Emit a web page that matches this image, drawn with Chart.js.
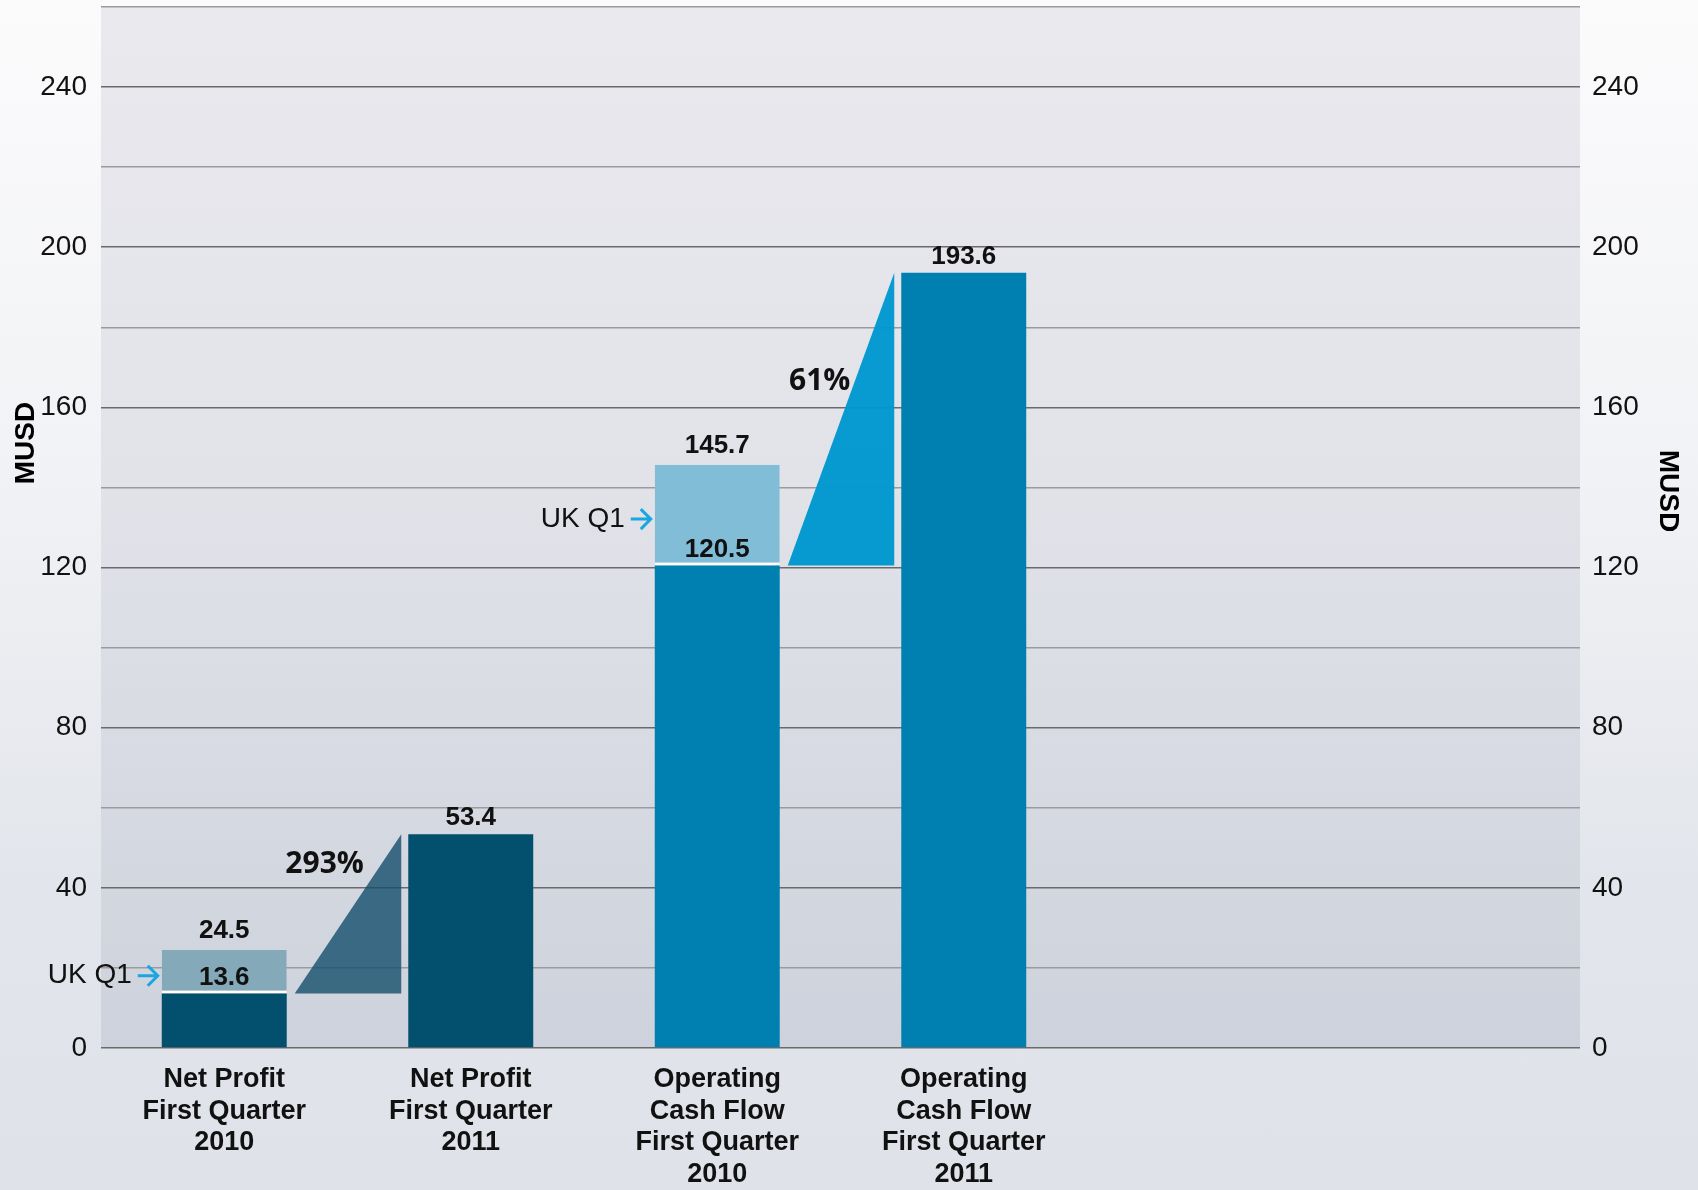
<!DOCTYPE html>
<html>
<head>
<meta charset="utf-8">
<script src="https://cdn.jsdelivr.net/npm/chart.js@4.4.1/dist/chart.umd.min.js"></script>
<style>
  html, body { margin: 0; padding: 0; }
  body {
    width: 1698px; height: 1190px; overflow: hidden;
    background: linear-gradient(180deg, #fbfbfc 0%, #f1f2f5 40%, #e2e5eb 75%, #dfe3e9 100%);
  }
  #wrap { position: relative; width: 1698px; height: 1190px; }
</style>
</head>
<body>
<div id="wrap"><canvas id="myChart" width="1698" height="1190"></canvas></div>
<script>
// categories (two empty slots keep the right side of the plot free)
const categories = [
  ["Net Profit", "First Quarter", "2010"],
  ["Net Profit", "First Quarter", "2011"],
  ["Operating", "Cash Flow", "First Quarter", "2010"],
  ["Operating", "Cash Flow", "First Quarter", "2011"],
  "",
  ""
];
// without UK (dark part) and with UK Q1 (total height)
const baseValues = [13.6, 53.4, 120.5, 193.6, null, null];
const totalValues = [24.5, null, 145.7, null, null, null];
const growthPairs = [[0, 1], [2, 3]];
const growthLabels = ["293%", "61%"];
const yMin = 0;
const yMax = 260;
const yStep = 20;
const yLabelStep = 40;

const ukValues = totalValues.map((t, i) => (t === null ? null : +(t - baseValues[i]).toFixed(1)));

const baseColors = ["#024f6e", "#024f6e", "#0080b0", "#0080b0", null, null];
const ukColors = ["#84aab9", null, "#82bdd7", null, null, null];
const triColors = ["rgba(20,78,108,0.8)", "rgba(0,152,208,0.97)"];
const pctPos = [[0.28, 0.19], [0.30, 0.37]];

const ctx = document.getElementById("myChart");

const plotBg = {
  id: "plotBg",
  beforeDraw(chart) {
    const a = chart.chartArea;
    const c = chart.ctx;
    const g = c.createLinearGradient(0, a.top, 0, a.bottom);
    g.addColorStop(0, "#e9e9ee");
    g.addColorStop(0.45, "#e2e3e9");
    g.addColorStop(1, "#cdd2dc");
    c.save();
    c.fillStyle = g;
    c.fillRect(a.left, a.top, a.right - a.left, a.bottom - a.top);
    c.restore();
  }
};

const growth = {
  id: "growth",
  beforeDatasetsDraw(chart) {
    const c = chart.ctx;
    const y = chart.scales.y;
    const bars = chart.getDatasetMeta(0).data;
    c.save();
    growthPairs.forEach((p, k) => {
      const a = bars[p[0]], b = bars[p[1]];
      const x0 = a.x + a.width / 2 + 8;
      const x1 = b.x - b.width / 2 - 7;
      const yb = y.getPixelForValue(baseValues[p[0]]);
      const yt = y.getPixelForValue(baseValues[p[1]]);
      c.fillStyle = triColors[k];
      c.beginPath();
      c.moveTo(x0, yb);
      c.lineTo(x1, yb);
      c.lineTo(x1, yt);
      c.closePath();
      c.fill();
    });
    c.restore();
  },
  afterDatasetsDraw(chart) {
    const c = chart.ctx;
    const y = chart.scales.y;
    const bars = chart.getDatasetMeta(0).data;
    c.save();
    // percentage labels
    c.fillStyle = "#111";
    c.font = "bold 30px 'Open Sans'";
    c.textAlign = "center";
    c.textBaseline = "middle";
    growthPairs.forEach((p, k) => {
      const a = bars[p[0]], b = bars[p[1]];
      const x0 = a.x + a.width / 2 + 8;
      const x1 = b.x - b.width / 2 - 7;
      const yb = y.getPixelForValue(baseValues[p[0]]);
      const yt = y.getPixelForValue(baseValues[p[1]]);
      c.fillText(growthLabels[k], x0 + pctPos[k][0] * (x1 - x0), yt + pctPos[k][1] * (yb - yt));
    });

    // value labels
    c.font = "bold 26px 'Liberation Sans', Arial";
    c.textBaseline = "alphabetic";
    baseValues.forEach((v, i) => {
      if (v === null) return;
      const bar = bars[i];
      const yBase = y.getPixelForValue(v);
      c.fillText(v.toFixed(1), bar.x, yBase - 9);
      if (totalValues[i] !== null) {
        const yTop = y.getPixelForValue(totalValues[i]);
        c.fillText(totalValues[i].toFixed(1), bar.x, yTop - 12);
        // UK Q1 arrow
        const ym = (yBase + yTop) / 2 + 4;
        const xe = bar.x - bar.width / 2 - 4;
        const xs = xe - 20;
        c.strokeStyle = "#1aa6de";
        c.lineWidth = 3;
        c.beginPath();
        c.moveTo(xs, ym);
        c.lineTo(xe, ym);
        c.moveTo(xe - 10, ym - 10);
        c.lineTo(xe, ym);
        c.lineTo(xe - 10, ym + 10);
        c.stroke();
        c.font = "28px 'Liberation Sans', Arial";
        c.textAlign = "right";
        c.textBaseline = "middle";
        c.fillText("UK Q1", xs - 6, ym);
        c.font = "bold 26px 'Liberation Sans', Arial";
        c.textAlign = "center";
        c.textBaseline = "alphabetic";
      }
    });

    // axis titles
    c.font = "bold 28px 'Liberation Sans', Arial";
    c.fillStyle = "#000";
    c.textAlign = "center";
    c.textBaseline = "middle";
    c.translate(26, 443);
    c.rotate(-Math.PI / 2);
    c.fillText("MUSD", 0, 0);
    c.setTransform(1, 0, 0, 1, 0, 0);
    c.translate(1668, 491);
    c.rotate(Math.PI / 2);
    c.fillText("MUSD", 0, 0);
    c.restore();
  }
};

const yTickOpts = {
  stepSize: yStep,
  color: "#111",
  font: { family: "'Liberation Sans', Arial", size: 28 },
  callback: (v) => (v % yLabelStep === 0 ? v : "")
};

function fitY(w) {
  return (s) => {
    s.width = w;
    s.paddingTop = 0;
    s.paddingBottom = 0;
  };
}

new Chart(ctx, {
  type: "bar",
  data: {
    labels: categories,
    datasets: [
      {
        label: "Without UK",
        data: baseValues,
        backgroundColor: baseColors,
        borderWidth: 0,
        barPercentage: 0.507,
        categoryPercentage: 1
      },
      {
        label: "UK Q1",
        data: ukValues,
        backgroundColor: ukColors,
        borderColor: "#ffffff",
        borderWidth: { top: 0, left: 0, right: 0, bottom: 3 },
        borderSkipped: false,
        barPercentage: 0.507,
        categoryPercentage: 1
      }
    ]
  },
  options: {
    responsive: false,
    animation: false,
    layout: { padding: { top: 7 } },
    plugins: {
      legend: { display: false },
      tooltip: { enabled: false }
    },
    scales: {
      x: {
        stacked: true,
        grid: { display: false, drawTicks: false },
        border: { display: false },
        afterFit: (s) => {
          s.height = 142;
          s.paddingLeft = 0;
          s.paddingRight = 0;
        },
        ticks: {
          autoSkip: false,
          maxRotation: 0,
          padding: 16,
          color: "#111",
          font: { family: "'Liberation Sans', Arial", size: 27, weight: "bold", lineHeight: 1.17 }
        }
      },
      y: {
        stacked: true,
        position: "left",
        min: yMin,
        max: yMax,
        afterFit: fitY(101),
        grid: {
          drawTicks: false,
          lineWidth: 1.5,
          color: (c) => (c.tick && c.tick.value % yLabelStep === 0 ? "#6a6a6a" : "#9b9b9b")
        },
        border: { display: false },
        ticks: Object.assign({ padding: 14 }, yTickOpts)
      },
      y2: {
        position: "right",
        min: yMin,
        max: yMax,
        afterFit: fitY(118),
        grid: { display: false, drawTicks: false },
        border: { display: false },
        ticks: Object.assign({ padding: 12 }, yTickOpts)
      }
    }
  },
  plugins: [plotBg, growth]
});
</script>
</body>
</html>
